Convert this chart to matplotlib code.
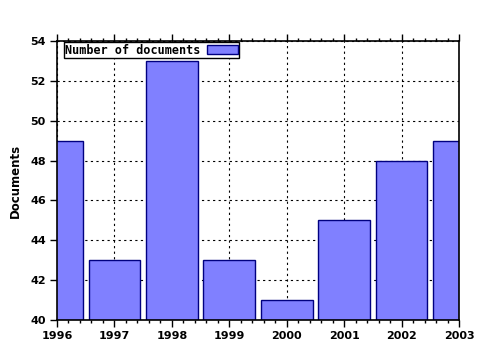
import matplotlib
matplotlib.use("Agg")
import matplotlib.pyplot as plt
from matplotlib.ticker import MultipleLocator

years = [1996, 1997, 1998, 1999, 2000, 2001, 2002, 2003]
documents = [49, 43, 53, 43, 41, 45, 48, 49]
yticks = [40, 42, 44, 46, 48, 50, 52, 54]

fig = plt.figure(figsize=(4.8, 3.5), dpi=100)
ax = fig.add_axes([57/480, 1-320/350, (459-57)/480, (320-41)/350])

ax.bar(years, [d - 40 for d in documents], bottom=40, width=0.9,
       color="#8080ff", edgecolor="#000080", linewidth=1.0,
       label="Number of documents", zorder=2)

ax.set_xlim(1996, 2003)
ax.set_ylim(40, 54)
ax.set_xticks(years)
ax.set_yticks(yticks)
ax.xaxis.set_minor_locator(MultipleLocator(0.2))
ax.grid(True, which="major", color="black", linestyle=(0, (2, 3)), linewidth=0.8, zorder=1)
ax.set_axisbelow(True)

for s in ax.spines.values():
    s.set_linewidth(1.2)
    s.set_zorder(3)

ax.tick_params(axis="x", which="major", direction="out", length=5, width=1,
               top=True, labelsize=8, pad=3)
ax.tick_params(axis="x", which="minor", direction="out", length=2.5, width=1, top=True)
ax.tick_params(axis="y", which="major", direction="out", length=5, width=1,
               labelsize=8, pad=3)
for lbl in ax.get_xticklabels() + ax.get_yticklabels():
    lbl.set_fontweight("bold")
    lbl.set_family("DejaVu Sans")

ax.set_ylabel("Documents", fontsize=8.5, fontweight="bold", family="DejaVu Sans", labelpad=6)

leg = ax.legend(loc="upper left", bbox_to_anchor=(0.017, 0.995), markerfirst=False,
                prop={"family": "DejaVu Sans Mono", "weight": "bold", "size": 8.5},
                fancybox=False, framealpha=1, edgecolor="black", borderpad=0.1,
                handlelength=2.6, handleheight=0.7, handletextpad=0.6, borderaxespad=0)
leg.get_frame().set_linewidth(1.0)
leg.set_zorder(5)

fig.savefig("out.png", dpi=100, facecolor="white")
